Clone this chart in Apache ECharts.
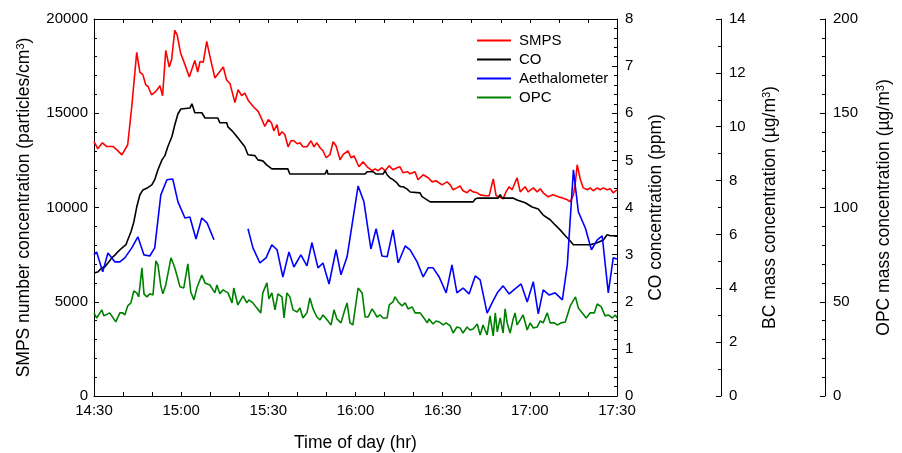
<!DOCTYPE html>
<html>
<head>
<meta charset="utf-8">
<script src="https://cdn.jsdelivr.net/npm/echarts@6/dist/echarts.min.js"></script>
<style>html,body{margin:0;padding:0;background:#fff}#c{width:902px;height:453px}</style>
</head>
<body>
<div id="c"></div>
<script>
// time axis: minutes after 14:30
const timeTickLabels = ['14:30','15:00','15:30','16:00','16:30','17:00','17:30'];
const seriesNames = ['SMPS','CO','Aethalometer','OPC'];

// [minutes after 14:30, particles/cm3]
const smps = [[0,13500],[1.3,13120],[2.9,13430],[4.3,13240],[6.5,13240],[7.9,13060],[9.6,12790],[11.6,13330],[13.0,15360],[14.7,18230],[15.8,17170],[16.8,17050],[17.8,16510],[18.6,16420],[19.8,15980],[21.3,16160],[22.7,16460],[23.6,15930],[24.7,18340],[25.9,17450],[26.7,17840],[27.8,19400],[28.6,19170],[29.8,18200],[31.3,17580],[32.8,16920],[34.7,17800],[35.7,17190],[36.5,17750],[37.6,17700],[38.8,18810],[39.9,18020],[41.6,16870],[44.5,17450],[45.6,16780],[46.8,16570],[48.5,15570],[49.6,16250],[50.8,15930],[51.9,16070],[53.1,15680],[54.8,15360],[56.5,15100],[57.8,14660],[58.8,14300],[60.0,14660],[61.1,14480],[61.9,14070],[63.0,14390],[63.7,13810],[64.7,14020],[65.7,13860],[66.8,13220],[67.8,13540],[68.8,13540],[69.9,13380],[70.9,13430],[71.9,13220],[73.3,13220],[73.6,13120],[74.7,13540],[75.7,13220],[76.7,13430],[77.8,13170],[78.8,13010],[79.9,12640],[81.2,12800],[82.3,13490],[83.3,13280],[84.7,12530],[85.7,12800],[87.4,13010],[88.5,12640],[89.5,12740],[91.2,12160],[92.6,12430],[94.0,12160],[95.7,11950],[96.7,12050],[97.8,11950],[99.1,12110],[100.2,11950],[101.6,12210],[102.9,12000],[104.3,12110],[105.3,12160],[106.4,11840],[107.8,11900],[108.8,11790],[110.5,11900],[111.5,11470],[113.3,11740],[115.0,11580],[116.4,11360],[117.7,11420],[119.8,11200],[121.5,11360],[122.6,11200],[123.6,10940],[124.9,11040],[126.0,11150],[127.0,10890],[128.4,10780],[129.4,10940],[130.5,10830],[131.9,10780],[132.9,10670],[134.6,10620],[136.0,10620],[137.4,11520],[138.4,10620],[139.4,10570],[140.8,10460],[141.8,10830],[142.9,11100],[143.9,10940],[145.6,11580],[146.7,10830],[148.4,11100],[149.4,10830],[151.2,11040],[152.5,10830],[153.6,10990],[154.6,10780],[156.3,10570],[158.0,10670],[159.8,10570],[161.2,10510],[162.9,10410],[163.9,10300],[165.0,10670],[165.7,11360],[166.3,12270],[167.4,11470],[168.4,11040],[169.8,10940],[170.8,11040],[171.8,10890],[173.2,11040],[174.2,10940],[175.3,11040],[176.6,10940],[177.7,10990],[178.7,10780],[180,10940]];

// [minutes after 14:30, ppm]
const co = [[0,2.61],[1.3,2.63],[2.7,2.72],[3.7,2.74],[4.8,2.82],[6.1,2.93],[7.2,2.99],[8.2,3.06],[9.6,3.14],[11.0,3.21],[11.6,3.31],[12.7,3.48],[13.7,3.69],[14.7,4.01],[15.8,4.27],[16.8,4.37],[18.5,4.42],[19.9,4.48],[20.9,4.59],[22.0,4.80],[23.4,5.01],[24.4,5.10],[25.4,5.29],[26.8,5.50],[27.8,5.75],[28.9,5.99],[29.9,6.09],[33.0,6.11],[33.7,6.20],[34.7,6.01],[37.1,6.01],[38.2,5.90],[42.6,5.90],[43.3,5.80],[45.7,5.80],[46.1,5.71],[47.8,5.61],[49.5,5.48],[50.9,5.37],[51.9,5.29],[53.0,5.12],[55.4,5.10],[56.4,5.01],[58.1,4.99],[59.5,4.90],[61.2,4.82],[66.7,4.82],[67.4,4.71],[79.5,4.71],[80.2,4.80],[80.5,4.71],[93.3,4.71],[94.0,4.76],[96.0,4.76],[97.1,4.71],[99.5,4.71],[100.2,4.78],[100.9,4.69],[101.9,4.63],[102.9,4.59],[104.3,4.52],[105.0,4.46],[105.3,4.50],[105.7,4.44],[106.4,4.44],[107.8,4.39],[108.8,4.33],[112.2,4.31],[112.9,4.23],[115.7,4.12],[130.5,4.12],[131.2,4.18],[132.2,4.20],[139.1,4.20],[139.8,4.27],[140.5,4.20],[144.2,4.20],[145.6,4.16],[148.4,4.10],[150.8,4.01],[152.9,3.97],[154.6,3.84],[157.0,3.74],[158.7,3.63],[160.5,3.52],[162.2,3.40],[163.9,3.29],[165.0,3.21],[170.8,3.21],[173.2,3.25],[175.3,3.31],[176.6,3.42],[177.7,3.40],[180,3.40]];

// [minutes after 14:30, BC ug/m3]; null = data gap
const aeth = [[0,5.24],[0.9,5.35],[3.0,4.61],[4.8,5.31],[7.2,4.98],[8.9,4.98],[10.6,5.13],[13.0,5.50],[15.1,5.91],[17.2,5.24],[19.2,5.20],[20.9,5.50],[23.0,7.47],[25.1,8.03],[27.1,8.06],[28.9,7.21],[31.3,6.61],[33.0,6.65],[35.1,5.83],[37.1,6.61],[38.9,6.43],[41.3,5.80],[47,null],[53.0,6.21],[54.7,5.50],[57.1,4.94],[59.2,5.13],[61.2,5.61],[63.0,5.43],[65.0,4.42],[67.1,5.35],[68.8,4.79],[71.2,5.24],[73.3,4.83],[75.0,5.69],[77.1,4.76],[78.8,4.94],[80.9,4.16],[83.3,5.43],[85.0,4.50],[87.1,5.17],[90.9,7.80],[92.9,7.21],[95.3,5.46],[97.1,6.21],[99.1,5.20],[100.9,5.17],[102.9,6.17],[104.7,4.94],[107.1,5.57],[108.8,5.43],[111.2,4.98],[113.3,4.42],[115.0,4.76],[116.7,4.76],[118.8,4.42],[121.2,3.83],[123.2,4.87],[124.9,3.83],[127.0,4.01],[129.1,3.79],[131.2,4.46],[132.9,4.31],[135.3,3.08],[137.0,3.46],[138.8,3.83],[140.8,4.09],[142.9,3.79],[144.9,3.98],[147.0,4.16],[149.1,3.49],[151.2,4.24],[152.9,3.05],[154.6,3.94],[156.7,3.75],[158.7,3.83],[161.2,3.57],[162.9,4.87],[165.0,8.40],[166.7,6.84],[169.1,6.24],[171.2,5.43],[173.2,5.80],[174.9,5.95],[177.0,3.83],[178.7,5.13],[180,5.09]];

// [minutes after 14:30, OPC ug/m3]
const opc = [[0,44.1],[0.9,41.4],[2.7,45.7],[3.4,42.5],[5.4,44.1],[7.5,39.3],[8.9,44.1],[9.9,44.1],[10.6,43.0],[11.6,47.8],[12.7,49.4],[13.7,55.7],[14.7,54.7],[15.4,52.6],[16.5,68.0],[17.2,54.2],[18.2,52.6],[19.2,54.2],[20.3,53.6],[21.3,71.7],[22.0,69.6],[23.0,58.4],[23.7,54.2],[24.7,58.9],[26.5,73.3],[27.8,68.0],[28.5,64.2],[29.6,57.9],[30.9,57.3],[32.3,70.1],[33.3,55.2],[34.4,51.0],[35.4,57.3],[37.1,64.2],[38.2,60.0],[39.9,58.9],[41.6,54.7],[42.3,58.9],[43.3,54.2],[44.4,56.3],[46.1,54.7],[47.5,49.4],[48.1,57.3],[49.5,48.3],[51.3,53.1],[52.6,49.4],[53.3,51.0],[54.7,49.4],[55.7,47.3],[57.4,44.1],[58.1,54.7],[59.5,60.0],[60.2,51.5],[61.2,54.7],[62.3,45.7],[63.3,54.2],[64.7,52.6],[65.4,41.4],[66.4,54.7],[67.4,52.6],[68.5,45.7],[69.9,44.6],[70.9,46.7],[71.9,41.4],[73.3,44.1],[74.3,52.0],[75.4,46.2],[76.7,41.9],[77.8,40.4],[78.8,43.0],[80.2,40.4],[81.6,37.7],[82.6,45.7],[83.6,40.9],[85.0,38.8],[86.4,46.2],[87.1,49.4],[88.1,38.8],[89.1,37.7],[90.9,57.3],[92.3,54.7],[93.3,41.9],[94.3,41.9],[95.7,46.2],[96.4,44.6],[97.4,41.9],[98.5,43.0],[99.5,41.4],[100.9,41.4],[101.6,48.3],[102.9,49.9],[103.6,52.6],[104.7,49.9],[106.0,47.8],[107.1,49.4],[108.1,46.2],[109.5,47.3],[110.5,44.1],[112.2,44.1],[113.3,41.9],[114.7,38.8],[115.3,40.9],[116.7,38.2],[117.7,39.8],[118.8,39.3],[120.2,37.7],[121.2,38.8],[122.6,37.2],[123.6,33.4],[124.9,36.6],[126.0,36.1],[127.0,33.4],[128.4,36.6],[129.4,35.0],[130.5,35.6],[131.9,38.2],[132.9,32.4],[133.9,37.7],[134.6,35.0],[135.3,32.4],[136.3,42.5],[137.4,31.9],[138.1,44.1],[138.8,34.0],[139.8,41.4],[140.8,33.4],[141.5,46.2],[142.2,38.8],[143.2,33.4],[144.2,40.4],[144.9,44.1],[145.6,37.7],[146.7,40.4],[147.7,43.0],[149.1,35.0],[150.1,38.8],[151.2,36.1],[152.5,36.6],[153.6,39.8],[154.6,38.8],[156.0,44.1],[157.0,38.8],[158.4,38.8],[159.4,37.7],[160.8,38.8],[162.2,39.3],[163.9,47.8],[165.7,52.6],[166.7,46.7],[168.0,44.1],[169.4,41.4],[170.8,44.1],[172.2,44.1],[173.2,48.8],[174.6,47.3],[175.9,42.5],[177.0,43.0],[178.4,41.4],[179.4,43.0],[180,41.4]];

const FONT = '"Liberation Sans", Arial, sans-serif';
const black = '#000';
const labelStyle = {color: black, fontFamily: FONT, fontSize: 15};
const nameRich = {
  a: {fontFamily: FONT, fontSize: 17.5, color: black},
  s: {fontFamily: FONT, fontSize: 11, color: black, verticalAlign: 'top'}
};

function yAx(opts) {
  return Object.assign({
    type: 'value',
    nameLocation: 'middle',
    nameRotate: 90,
    nameTextStyle: {rich: nameRich, fontFamily: FONT, fontSize: 17.5, color: black},
    axisLine: {show: true, onZero: false, lineStyle: {color: black, width: 1}},
    axisTick: {show: true, inside: true, length: 5, lineStyle: {color: black}},
    minorTick: {show: true, splitNumber: 5, length: 3, lineStyle: {color: black}},
    axisLabel: Object.assign({margin: 8, formatter: v => String(v)}, labelStyle),
    splitLine: {show: false}
  }, opts);
}

const chart = echarts.init(document.getElementById('c'), null, {renderer: 'canvas'});
const colors = ['#ff0000', '#000000', '#0000ff', '#008000'];

chart.setOption({
  animation: false,
  backgroundColor: '#fff',
  grid: {left: 94, right: 285, top: 19, bottom: 57, containLabel: false, outerBoundsMode: 'none'},
  legend: {
    orient: 'vertical', left: 472, top: 26,
    itemWidth: 34, itemHeight: 2, itemGap: 0, icon: 'rect',
    textStyle: {fontFamily: FONT, fontSize: 15, color: black, lineHeight: 19, padding: [0,0,0,3]},
    data: seriesNames
  },
  xAxis: [{
    type: 'value', min: 0, max: 180, interval: 30, position: 'bottom',
    name: 'Time of day (hr)', nameLocation: 'middle', nameGap: 38,
    nameTextStyle: {fontFamily: FONT, fontSize: 17.5, color: black},
    axisLine: {onZero: false, lineStyle: {color: black}},
    axisTick: {inside: true, length: 4, lineStyle: {color: black}},
    minorTick: {show: true, splitNumber: 3, length: 4, lineStyle: {color: black}},
    axisLabel: Object.assign({margin: 7, formatter: v => timeTickLabels[Math.round(v / 30)]}, labelStyle),
    splitLine: {show: false}
  }, {
    type: 'value', min: 0, max: 180, interval: 30, position: 'top',
    axisLine: {onZero: false, lineStyle: {color: black}},
    axisTick: {inside: true, length: 4, lineStyle: {color: black}},
    minorTick: {show: true, splitNumber: 3, length: 4, lineStyle: {color: black}},
    axisLabel: {show: false},
    splitLine: {show: false}
  }],
  yAxis: [
    yAx({position: 'left', min: 0, max: 20000, interval: 5000,
      axisLabel: Object.assign({margin: 6, formatter: v => String(v)}, labelStyle),
      name: '{a|SMPS number concentration (particles/cm}{s|3}{a|)}', nameGap: 61}),
    yAx({position: 'right', min: 0, max: 8, interval: 1,
      name: '{a|CO concentration (ppm)}', nameGap: 30}),
    yAx({position: 'right', offset: 104, min: 0, max: 14, interval: 2,
      minorTick: {show: true, splitNumber: 2, length: 3, lineStyle: {color: black}},
      name: '{a|BC mass concentration (µg/m}{s|3}{a|)}', nameGap: 40}),
    yAx({position: 'right', offset: 208, min: 0, max: 200, interval: 50,
      name: '{a|OPC mass concentration (µg/m}{s|3}{a|)}', nameGap: 50})
  ],
  series: [
    {name: 'SMPS', type: 'line', yAxisIndex: 0, data: smps},
    {name: 'CO', type: 'line', yAxisIndex: 1, data: co},
    {name: 'Aethalometer', type: 'line', yAxisIndex: 2, data: aeth, connectNulls: false},
    {name: 'OPC', type: 'line', yAxisIndex: 3, data: opc}
  ].map((s, i) => Object.assign(s, {
    showSymbol: false, symbol: 'none',
    lineStyle: {color: colors[i], width: 1.6},
    itemStyle: {color: colors[i]},
    emphasis: {disabled: true}
  }))
});
</script>
</body>
</html>
